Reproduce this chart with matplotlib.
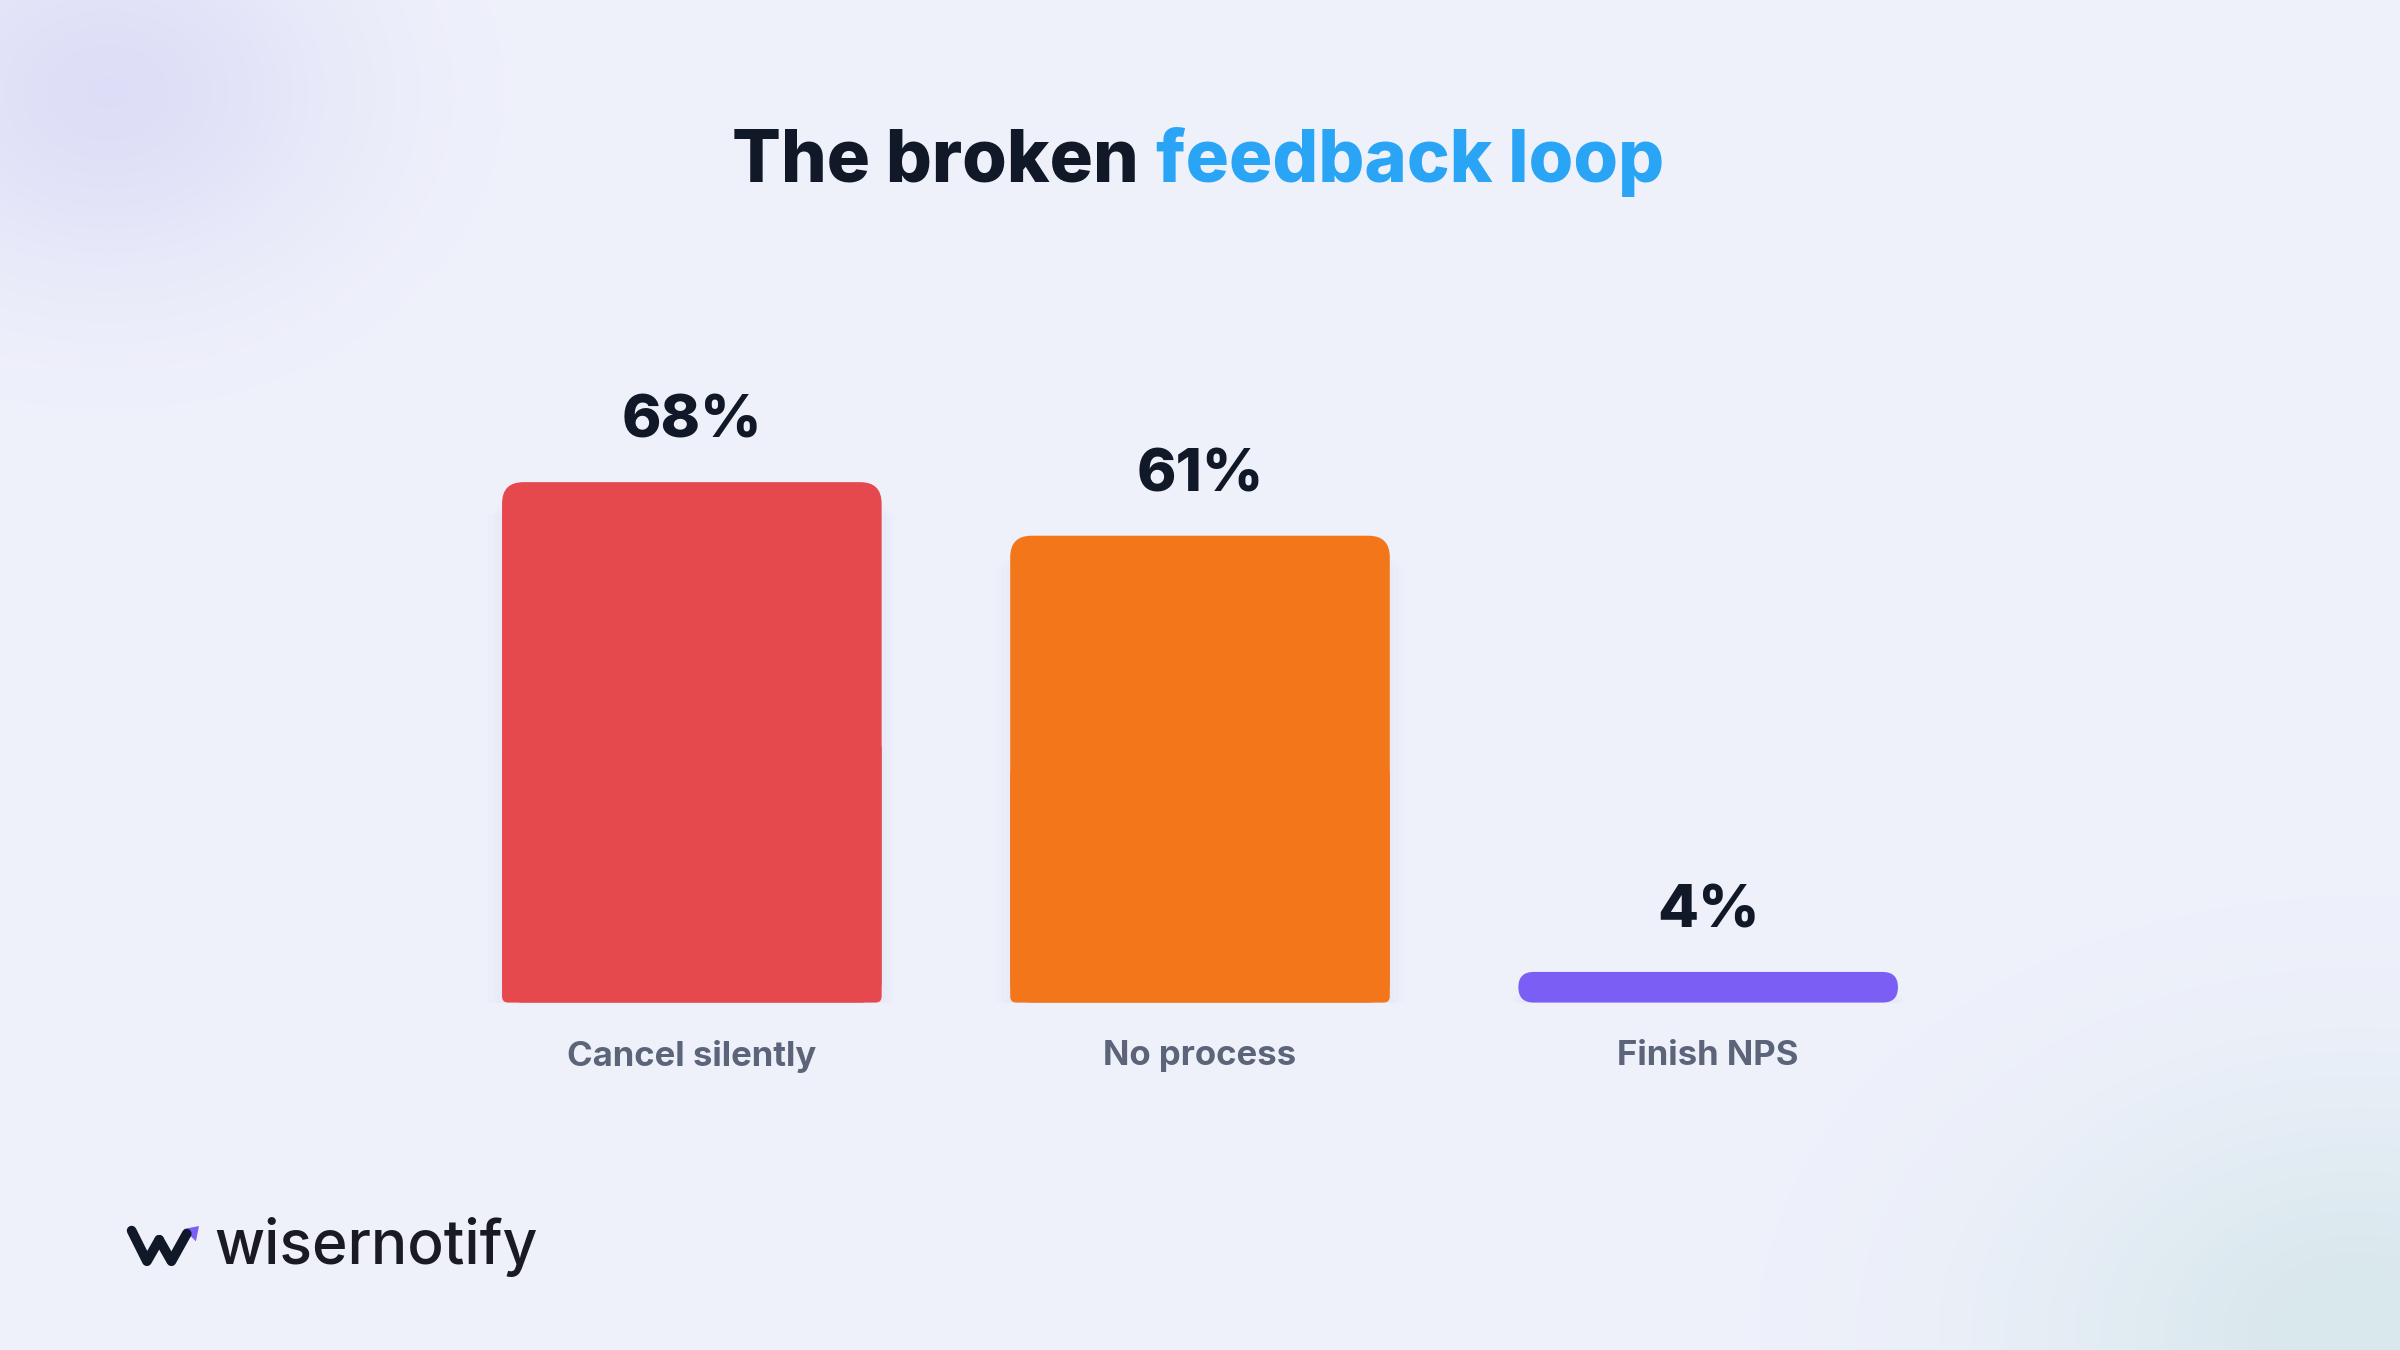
"""Broken feedback loop bar chart."""

import matplotlib.pyplot as plt
import numpy as np
from matplotlib.patches import FancyBboxPatch, Rectangle, Polygon

categories = ["Cancel silently", "No process", "Finish NPS"]
values = [68, 61, 4]
value_labels = ["68%", "61%", "4%"]
bar_colors = ["#e5494e", "#f4761b", "#7b5ff5"]

W, H = 1568, 882  # reference layout units

plt.rcParams["font.family"] = ["Inter", "DejaVu Sans"]
fig = plt.figure(figsize=(24, 13.5), dpi=100)

# background gradient
bg = fig.add_axes([0, 0, 1, 1])
yy, xx = np.mgrid[0:H, 0:W]
base = np.array([0.937, 0.945, 0.984])
img = np.ones((H, W, 3)) * base
g1 = np.exp(-(((xx - 70) / 150) ** 2 + ((yy - 60) / 120) ** 2))
img += g1[..., None] * (np.array([0.87, 0.87, 0.97]) - base)
g2 = np.exp(-(((xx - 1540) / 220) ** 2 + ((yy - 870) / 160) ** 2))
img += g2[..., None] * (np.array([0.85, 0.91, 0.93]) - base)
bg.imshow(np.clip(img, 0, 1), extent=[0, W, H, 0], aspect="auto")
bg.set_xlim(0, W)
bg.set_ylim(H, 0)
bg.axis("off")

# bar axes: baseline at y=655, 5 units per percent, bar spacing 332
base_y = 655
x_left = 452 - 166
ax = fig.add_axes([x_left / W, (H - base_y) / H, 996 / W, 500 / H])
ax.set_xlim(-0.5, 2.5)
ax.set_ylim(0, 100)
ax.axis("off")
ax.patch.set_alpha(0)

px_x = 1 / 332
px_y = 1 / 5
bw = 248 * px_x
for i, (v, c, lab, cat) in enumerate(zip(values, bar_colors, value_labels, categories)):
    x0 = i - bw / 2
    # soft shadow
    for k in range(6):
        ax.add_patch(Rectangle((x0 + 6 * px_x - k * 3 * px_x, -6 * px_y - k * 3 * px_y),
                               bw - 12 * px_x + k * 6 * px_x, v,
                               facecolor="#8a8fb8", alpha=0.012, lw=0, zorder=1))
    r = min(14, v * 5 / 2) * px_x
    ax.add_patch(FancyBboxPatch((x0, 0), bw, v,
                                boxstyle=f"round,pad=0,rounding_size={r}",
                                mutation_aspect=px_y / px_x,
                                facecolor=c, lw=0, zorder=3))
    if v > 10:
        ax.add_patch(FancyBboxPatch((x0, 0), bw, v / 2,
                                    boxstyle=f"round,pad=0,rounding_size={4 * px_x}",
                                    mutation_aspect=px_y / px_x,
                                    facecolor=c, lw=0, zorder=3))
    ax.text(i, v + 21 * px_y, lab, ha="center", va="bottom", fontsize=43,
            fontweight=800, color="#111827", zorder=4)
    ax.text(i, -35 * px_y, cat, ha="center", va="center", fontsize=25,
            fontweight=700, color="#5b6478", zorder=4, clip_on=False)

# title
fig.text(744 / W, 1 - 106 / H, "The broken", ha="right", va="center",
         fontsize=52, fontweight=800, color="#111827")
fig.text(755 / W, 1 - 106 / H, "feedback loop", ha="left", va="center",
         fontsize=52, fontweight=800, color="#2aa5f5")

# logo
bg.plot([86, 96, 104], [804, 824, 810], color="#111827", lw=7,
        solid_capstyle="round", solid_joinstyle="round")
bg.plot([104, 112, 122], [810, 824, 806], color="#111827", lw=7,
        solid_capstyle="round", solid_joinstyle="round")
bg.add_patch(Polygon([[120, 803], [130, 801], [128, 811]], closed=True,
                     facecolor="#7b5ff5", lw=0))
fig.text(140 / W, 1 - 815 / H, "wisernotify", ha="left", va="center",
         fontsize=43.5, fontweight=500, color="#1a1a24")

fig.savefig("out.png", dpi=100)
